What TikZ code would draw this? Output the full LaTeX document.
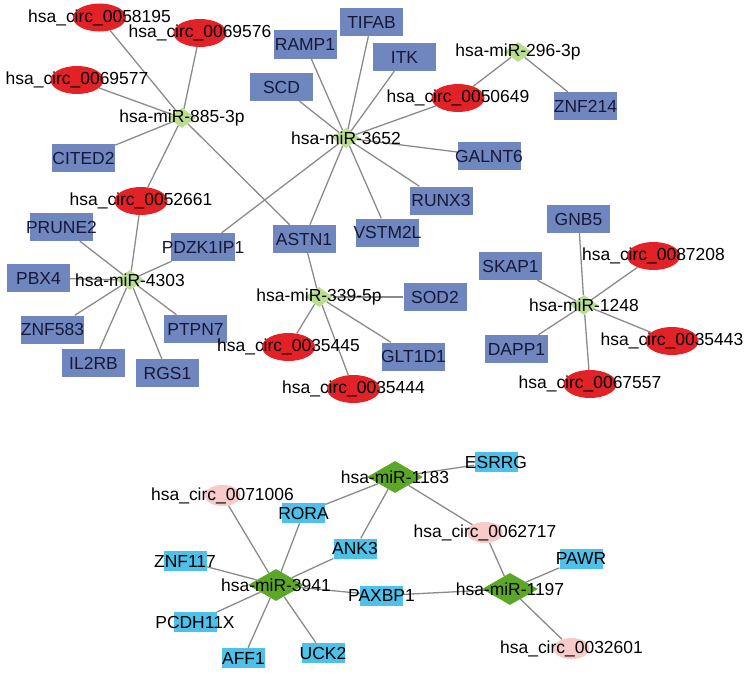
\documentclass[tikz,border=0pt]{standalone}
\usepackage{fontspec}
\setmainfont{Liberation Sans}
\usepackage{xcolor}
\usepackage{tikz}
\usetikzlibrary{shapes.geometric,backgrounds}
\definecolor{geneblue}{HTML}{6F86BF}
\definecolor{genecyan}{HTML}{4EC1EA}
\definecolor{circred}{HTML}{E32227}
\definecolor{circpink}{HTML}{F9CACA}
\definecolor{mirlight}{HTML}{B9DE8E}
\definecolor{mirdark}{HTML}{5BA829}
\definecolor{linkgray}{HTML}{8A8A8A}
\definecolor{genetext}{HTML}{16183A}

\begin{document}
\begin{tikzpicture}[x=0.03cm,y=-0.03cm,
  every label/.style={font=\fontsize{14.9}{17}\selectfont,inner sep=0pt},
  gene/.style={rectangle,fill=geneblue,minimum width=1.89cm,minimum height=0.84cm,inner sep=0pt},
  circ/.style={ellipse,fill=circred,minimum width=1.59cm,minimum height=0.84cm,inner sep=0pt},
  mir/.style={diamond,fill=mirlight,minimum width=0.84cm,minimum height=0.6cm,inner sep=0pt},
  gene2/.style={rectangle,fill=genecyan,minimum width=1.29cm,minimum height=0.6cm,inner sep=0pt},
  circ2/.style={ellipse,fill=circpink,minimum width=1.08cm,minimum height=0.63cm,inner sep=0pt},
  mir2/.style={diamond,fill=mirdark,minimum width=1.68cm,minimum height=0.96cm,inner sep=0pt},
  link/.style={draw=linkgray,line width=1.1pt}]
\useasboundingbox (0,0) rectangle (746,673);

% upper network
\foreach \n/\x/\y in {CITED2/83.5/158,PRUNE2/61.5/227,TIFAB/371.5/22,RAMP1/305/44.5,
  ITK/404.5/57,SCD/281.5/87,GALNT6/489/156,RUNX3/441/200.5,VSTM2L/387.5/232.5,
  ASTN1/304/239,ZNF214/585.5/106,GNB5/578.5/219,SKAP1/510.5/266,DAPP1/516.5/349,
  PBX4/38.5/278,PDZK1IP1/203/247,ZNF583/52.5/329.5,PTPN7/195.5/329,IL2RB/93.5/363,
  RGS1/167.5/373,SOD2/435/297,GLT1D1/413.5/356.5}
  \node[gene,label={[text=genetext]center:\n}] (\n) at (\x,\y) {};
\foreach \n/\x/\y in {0058195/99.5/17.5,0069576/200/33,0069577/77/80,0052661/141/201,
  0050649/458/98,0087208/653.5/256,0035443/672/341,0067557/590/384,
  0035445/288.5/347,0035444/353.5/389}
  \node[circ,label={center:hsa\_circ\_\n}] (c\n) at (\x,\y) {};
\foreach \n/\t/\x/\y in {m885/885-3p/182/118,m3652/3652/346/138,m296/296-3p/518/52,
  m4303/4303/130/280,m339/339-5p/319/297,m1248/1248/584/305}
  \node[mir,label={center:hsa-miR-\t}] (\n) at (\x,\y) {};

% lower network
\foreach \n/\x/\y in {RORA/303.5/513,ANK3/355/548.5,ZNF117/185/561,PAXBP1/381.5/595.5,
  PCDH11X/195/622,AFF1/243.5/658,UCK2/323/653,ESRRG/496/462,PAWR/581/558.5}
  \node[gene2,label={center:\n}] (\n) at (\x,\y) {};
\foreach \n/\x/\y in {0071006/222.5/495.5,0062717/485/532.5,0032601/571.5/648.5}
  \node[circ2,label={center:hsa\_circ\_\n}] (c\n) at (\x,\y) {};
\foreach \n/\t/\x/\y in {m1183/1183/395/477,m3941/3941/276/585,m1197/1197/510/589}
  \node[mir2,label={center:hsa-miR-\t}] (\n) at (\x,\y) {};

\begin{scope}[on background layer]
\foreach \m/\targets in {
  m885/{c0058195,c0069576,c0069577,CITED2,c0052661,ASTN1},
  m3652/{RAMP1,TIFAB,ITK,SCD,c0050649,GALNT6,RUNX3,VSTM2L,ASTN1,PDZK1IP1},
  m296/{c0050649,ZNF214},
  m4303/{c0052661,PRUNE2,PDZK1IP1,PBX4,ZNF583,IL2RB,RGS1,PTPN7},
  m339/{ASTN1,SOD2,c0035445,c0035444,GLT1D1},
  m1248/{GNB5,SKAP1,c0087208,DAPP1,c0035443,c0067557},
  m3941/{c0071006,RORA,ANK3,ZNF117,PAXBP1,PCDH11X,AFF1,UCK2},
  m1183/{RORA,ANK3,ESRRG,c0062717},
  m1197/{c0062717,PAWR,PAXBP1,c0032601}}
  \foreach \g in \targets
    \draw[link] (\m) -- (\g);
\end{scope}
\end{tikzpicture}
\end{document}
